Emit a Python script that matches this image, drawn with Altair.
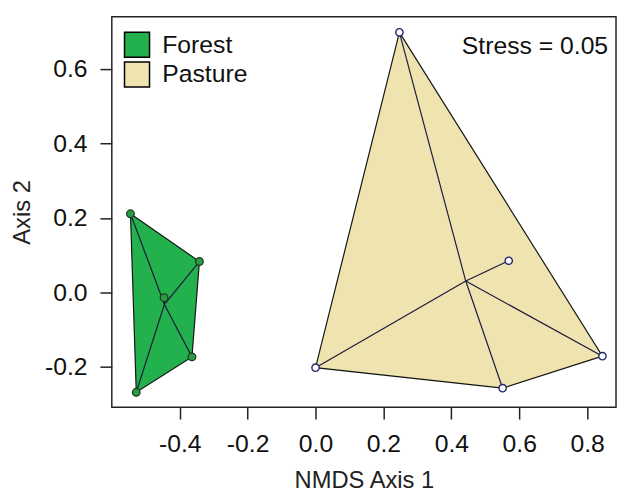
import altair as alt
import pandas as pd

# ---- data ----
groups = ["Forest", "Pasture"]
group_colors = ["#22B14C", "#EFE4B0"]

forest_x = [-0.545, -0.342, -0.446, -0.364, -0.528]
forest_y = [0.211, 0.083, -0.014, -0.173, -0.268]
pasture_x = [0.247, 0.569, 0.845, 0.551, 0.000]
pasture_y = [0.698, 0.085, -0.171, -0.257, -0.202]

# hull vertex order (indices into the arrays above)
forest_hull = [0, 1, 3, 4]
pasture_hull = [0, 2, 3, 4]

x_ticks = [-0.4, -0.2, 0.0, 0.2, 0.4, 0.6, 0.8]
y_ticks = [-0.2, 0.0, 0.2, 0.4, 0.6]
stress_label = "Stress = 0.05"

# ---- tables ----
sets = {
    "Forest": (forest_x, forest_y, forest_hull),
    "Pasture": (pasture_x, pasture_y, pasture_hull),
}

pts_rows, hull_rows, spider_rows = [], [], []
for g, (xs, ys, hull) in sets.items():
    cx = sum(xs) / len(xs)
    cy = sum(ys) / len(ys)
    for x, y in zip(xs, ys):
        pts_rows.append({"group": g, "x": x, "y": y})
        spider_rows.append({"group": g, "x": cx, "y": cy, "x2": x, "y2": y})
    for k, i in enumerate(hull + [hull[0]]):
        hull_rows.append({"group": g, "x": xs[i], "y": ys[i], "ord": k})

pts = pd.DataFrame(pts_rows)
hull_df = pd.DataFrame(hull_rows)
spider_df = pd.DataFrame(spider_rows)

W, H = 510, 395
xscale = alt.Scale(domain=[-0.6, 0.885], nice=False, zero=False)
yscale = alt.Scale(domain=[-0.308, 0.74], nice=False, zero=False)

label_expr = "(datum.value < 0 ? '-' : '') + format(abs(datum.value), '.1f')"

x_enc = alt.X("x:Q", scale=xscale,
              axis=alt.Axis(values=x_ticks, title="NMDS Axis 1", labelExpr=label_expr,
                            labelPadding=13, titlePadding=12))
y_enc = alt.Y("y:Q", scale=yscale,
              axis=alt.Axis(values=y_ticks, title="Axis 2", labelExpr=label_expr,
                            labelPadding=13, titlePadding=10))

hulls = alt.Chart(hull_df).mark_line(stroke="#151515", strokeWidth=1.2, strokeJoin="miter").encode(
    x=x_enc,
    y=y_enc,
    fill=alt.Fill("group:N", scale=alt.Scale(domain=groups, range=group_colors),
                  legend=alt.Legend(title=None, orient="none", legendX=12, legendY=15,
                                    symbolType="square", symbolSize=640,
                                    symbolStrokeColor="black", symbolStrokeWidth=1.5,
                                    symbolOpacity=1,
                                    labelFontSize=25, labelFont="Liberation Sans",
                                    labelColor="#111", labelOffset=12, rowPadding=-3,
                                    padding=0)),
    detail="group:N",
    order="ord:Q",
)

spiders = alt.Chart(spider_df).mark_rule(color="#1b1b40", strokeWidth=1.2).encode(
    x="x:Q", y="y:Q", x2="x2:Q", y2="y2:Q"
)

forest_pts = alt.Chart(pts[pts.group == "Forest"]).mark_point(
    filled=True, size=60, fill="#2a9a45", stroke="#1e3a1e", strokeWidth=1.3, opacity=1, shape="circle"
).encode(x="x:Q", y="y:Q")

pasture_pts = alt.Chart(pts[pts.group == "Pasture"]).mark_point(
    filled=True, size=55, fill="white", stroke="#26266e", strokeWidth=1.4, opacity=1, shape="circle"
).encode(x="x:Q", y="y:Q")

stress = alt.Chart(pd.DataFrame({"t": [stress_label]})).mark_text(
    align="right", baseline="middle", fontSize=25, font="Liberation Sans", color="#111"
).encode(text="t:N", x=alt.value(W - 8), y=alt.value(30))

chart = alt.layer(hulls, spiders, forest_pts, pasture_pts, stress).properties(
    width=W, height=H,
    autosize=alt.AutoSizeParams(type="none"),
    padding={"left": 105, "top": 6, "right": 2, "bottom": 84},
).configure_view(
    stroke="#222", strokeWidth=1.5
).configure_axis(
    grid=False, domain=False, tickColor="#222", tickWidth=1.5, tickSize=12,
    labelFont="Liberation Sans", labelFontSize=25, labelColor="#111",
    titleFont="Liberation Sans", titleFontSize=24, titleFontWeight="normal", titleColor="#222",
)

chart.save("out.html", embed_options={"renderer": "svg", "actions": False})
